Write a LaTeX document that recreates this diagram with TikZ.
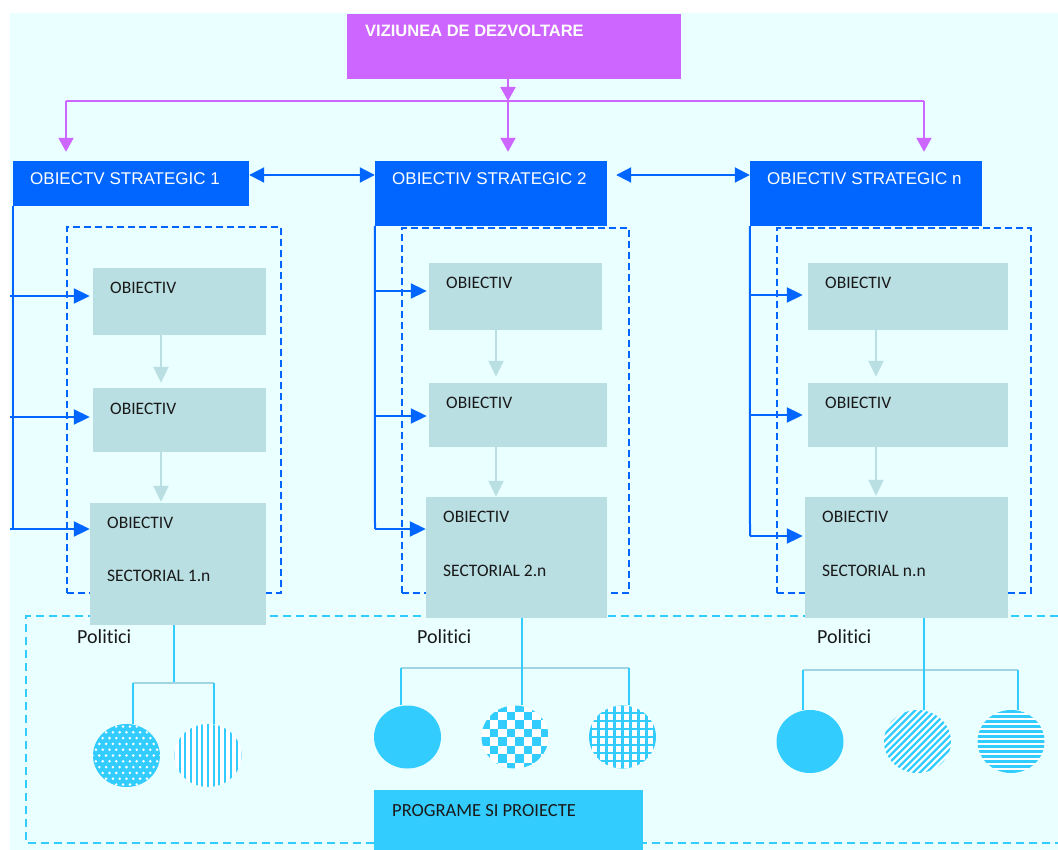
\documentclass[tikz,border=0pt]{standalone}
\usepackage{fontspec}
\usetikzlibrary{arrows.meta,fit,shapes.geometric}
\newfontfamily\arialf{Liberation Sans}
\newfontfamily\calf[Ligatures={NoCommon}]{Carlito}
\definecolor{bgc}{RGB}{234,255,255}
\definecolor{purp}{RGB}{204,102,255}
\definecolor{blu}{RGB}{0,102,255}
\definecolor{tealc}{RGB}{185,223,227}
\definecolor{cyanc}{RGB}{51,204,255}
\definecolor{barc}{RGB}{160,214,228}
\tikzset{
 visbox/.style={fill=purp, inner sep=0},
 strat/.style={fill=blu, inner sep=0},
 objbox/.style={fill=tealc, inner sep=0},
 grp/.style={draw=blu, line width=1.6pt, dash pattern=on 7pt off 4pt, inner sep=0},
 progbox/.style={fill=cyanc, inner sep=0},
 stxt/.style={text=white, font=\arialf\fontsize{17}{20}\selectfont, inner sep=0, anchor=west},
 vtxt/.style={text=white, font=\arialf\bfseries\fontsize{16.5}{20}\selectfont, inner sep=0, anchor=west},
 otxt/.style={text=black!90, font=\calf\fontsize{17.5}{20}\selectfont, inner sep=0, anchor=west},
 ptxt/.style={text=black!90, font=\calf\fontsize{20}{24}\selectfont, inner sep=0, anchor=west},
 gtxt/.style={text=black!90, font=\calf\fontsize{18.5}{22}\selectfont, inner sep=0, anchor=west},
 parrow/.style={draw=purp, line width=2pt, -{Triangle[width=15pt,length=14pt]}},
 pline/.style={draw=purp, line width=2pt},
 barrow/.style={draw=blu, line width=2pt, -{Triangle[width=15pt,length=16pt]}},
 bdbl/.style={draw=blu, line width=2pt, {Triangle[width=15pt,length=15pt]}-{Triangle[width=15pt,length=15pt]}},
 bline/.style={draw=blu, line width=2pt},
 larrow/.style={draw=tealc, line width=2pt, -{Triangle[width=15pt,length=16pt]}},
 cyline/.style={draw=cyanc, line width=2pt},
 barline/.style={draw=barc, line width=1.6pt},
 polframe/.style={draw=cyanc, line width=2pt, dash pattern=on 8pt off 5pt},
 pol/.style={ellipse, inner sep=0, minimum width=67pt, minimum height=63pt},
 patsolid/.style={pol, fill=cyanc},
 patdots/.style={pol, fill=cyanc, path picture={
   \begin{scope}[shift={(path picture bounding box.center)}]
   \foreach \r in {-6,...,6}{
     \foreach \c in {-6,...,6}{
       \pgfmathsetmacro{\xo}{\c*6.8+mod(\r+20,2)*3.4}
       \fill[white] ({\xo},{\r*5.8}) circle[radius=1.4];
     }
   }
   \end{scope}}},
 patvert/.style={pol, fill=white, path picture={
   \begin{scope}[shift={(path picture bounding box.center)}]
   \foreach \k in {-7,...,7}{
     \draw[cyanc, line width=2pt] ({\k*5.7},-40) -- ({\k*5.7},40);
   }
   \end{scope}}},
 patcheck/.style={pol, fill=white, path picture={
   \begin{scope}[shift={(path picture bounding box.center)}]
   \foreach \i in {-5,...,4}{
     \foreach \j in {-5,...,4}{
       \pgfmathtruncatemacro{\pp}{mod(\i+\j+20,2)}
       \ifnum\pp=0 \fill[cyanc] ({\i*8.5},{\j*8.5}) rectangle ++(8.5,8.5);\fi
     }
   }
   \end{scope}}},
 patgrid/.style={pol, fill=white, path picture={
   \begin{scope}[shift={(path picture bounding box.center)}]
   \foreach \k in {-5,...,5}{
     \draw[cyanc, line width=2.4pt] ({\k*8},-40) -- ({\k*8},40);
     \draw[cyanc, line width=2.4pt] (-40,{\k*8}) -- (40,{\k*8});
   }
   \end{scope}}},
 patdiag/.style={pol, fill=white, path picture={
   \begin{scope}[shift={(path picture bounding box.center)}]
   \foreach \k in {-14,...,14}{
     \draw[cyanc, line width=2.3pt] ({\k*6.7-40},40) -- ({\k*6.7+40},-40);
   }
   \end{scope}}},
 pathoriz/.style={pol, fill=white, path picture={
   \begin{scope}[shift={(path picture bounding box.center)}]
   \foreach \k in {-8,...,8}{
     \draw[cyanc, line width=2.4pt] (-40,{\k*5}) -- (40,{\k*5});
   }
   \end{scope}}}
}
\begin{document}
\begin{tikzpicture}[x=1pt,y=-1pt]
\useasboundingbox (0,0) rectangle (1058,850);
\fill[bgc] (10,13) rectangle (1058,850);

% group frames
\node[grp, fit={(67,227) (281,593)}] (d1) {};
\node[grp, fit={(402,228) (629,593)}] (d2) {};
\node[grp, fit={(777,228) (1031,593)}] (d3) {};
\coordinate (pfa) at (1058,616);
\coordinate (pfb) at (26,616);
\coordinate (pfc) at (26,843);
\coordinate (pfd) at (1058,843);
\draw[polframe] (pfa) -- (pfb) -- (pfc) -- (pfd);

% vision
\node[visbox, fit={(347,14) (681,79)}] (vis) {};
\node[vtxt] (tvis) at (365,31) {VIZIUNEA DE DEZVOLTARE};

% strategic boxes
\node[strat, fit={(13,161) (249,206)}] (s1) {};
\node[strat, fit={(375,161) (607,226)}] (s2) {};
\node[strat, fit={(750,161) (982,226)}] (s3) {};
\node[stxt] (ts1) at (30,179) {OBIECTV STRATEGIC 1};
\node[stxt] (ts2) at (392,179) {OBIECTIV STRATEGIC 2};
\node[stxt] (ts3) at (767,179) {OBIECTIV STRATEGIC n};

% objective boxes
\node[objbox, fit={(93,268) (266,335)}] (a1) {};
\node[objbox, fit={(93,388) (266,452)}] (b1) {};
\node[objbox, fit={(90,503) (266,625)}] (c1) {};
\node[objbox, fit={(429,263) (602,330)}] (a2) {};
\node[objbox, fit={(429,383) (607,447)}] (b2) {};
\node[objbox, fit={(426,497) (607,618)}] (c2) {};
\node[objbox, fit={(808,263) (1008,330)}] (a3) {};
\node[objbox, fit={(808,383) (1008,447)}] (b3) {};
\node[objbox, fit={(805,497) (1008,618)}] (c3) {};

\node[otxt] (ta1) at (110,288) {OBIECTIV};
\node[otxt] (tb1) at (110,409) {OBIECTIV};
\node[otxt] (tc1) at (107,523) {OBIECTIV};
\node[otxt] (tc1b) at (107,576) {SECTORIAL 1.n};
\node[otxt] (ta2) at (446,283) {OBIECTIV};
\node[otxt] (tb2) at (446,403) {OBIECTIV};
\node[otxt] (tc2) at (443,517) {OBIECTIV};
\node[otxt] (tc2b) at (443,571) {SECTORIAL 2.n};
\node[otxt] (ta3) at (825,283) {OBIECTIV};
\node[otxt] (tb3) at (825,403) {OBIECTIV};
\node[otxt] (tc3) at (822,517) {OBIECTIV};
\node[otxt] (tc3b) at (822,571) {SECTORIAL n.n};

% purple connectors
\coordinate (vsplit) at (508,101);
\coordinate (hl) at (66,101);
\coordinate (hr) at (924,101);
\draw[parrow] (vis.south -| vsplit) -- (vsplit);
\draw[pline] (hl) -- (hr);
\draw[parrow, shorten >=9pt] (hl) -- (hl |- s1.north);
\draw[parrow, shorten >=9pt] (vsplit) -- (vsplit |- s2.north);
\draw[parrow, shorten >=9pt] (hr) -- (hr |- s3.north);

% strategic double arrows
\coordinate (arrY) at (0,175);
\draw[bdbl] (s1.east |- arrY) -- (s2.west |- arrY);
\draw[bdbl, shorten <=9pt] (s2.east |- arrY) -- (s3.west |- arrY);

% feeders column 1
\coordinate (f1a) at (10,296);
\coordinate (f1b) at (10,417);
\coordinate (f1c) at (10,529);
\draw[bline] (s1.south west) -- (s1.south west |- f1c);
\draw[barrow, shorten >=3pt] (f1a) -- (f1a -| a1.west);
\draw[barrow, shorten >=3pt] (f1b) -- (f1b -| b1.west);
\draw[barrow] (f1c) -- (f1c -| c1.west);
% feeders column 2
\coordinate (f2a) at (375,291);
\coordinate (f2b) at (375,416);
\coordinate (f2c) at (375,529);
\draw[bline] (s2.south west) -- (f2c);
\draw[barrow, shorten >=2pt] (f2a) -- (f2a -| a2.west);
\draw[barrow, shorten >=2pt] (f2b) -- (f2b -| b2.west);
\draw[barrow] (f2c) -- (f2c -| c2.west);
% feeders column n
\coordinate (f3a) at (750,295);
\coordinate (f3b) at (750,415);
\coordinate (f3c) at (750,536);
\draw[bline] (s3.south west) -- (f3c);
\draw[barrow, shorten >=5pt] (f3a) -- (f3a -| a3.west);
\draw[barrow, shorten >=5pt] (f3b) -- (f3b -| b3.west);
\draw[barrow, shorten >=2pt] (f3c) -- (f3c -| c3.west);

% light arrows between objectives
\coordinate (lx1) at (161,0);
\coordinate (lx2) at (496,0);
\coordinate (lx3) at (876,0);
\draw[larrow, shorten >=5pt] (a1.south -| lx1) -- (b1.north -| lx1);
\draw[larrow, shorten >=1pt] (b1.south -| lx1) -- (c1.north -| lx1);
\draw[larrow, shorten >=6pt] (a2.south -| lx2) -- (b2.north -| lx2);
\draw[larrow] (b2.south -| lx2) -- (c2.north -| lx2);
\draw[larrow, shorten >=6pt] (a3.south -| lx3) -- (b3.north -| lx3);
\draw[larrow, shorten >=1pt] (b3.south -| lx3) -- (c3.north -| lx3);

% politici labels
\node[ptxt] (pol1) at (77,637) {Politici};
\node[ptxt] (pol2) at (417,637) {Politici};
\node[ptxt] (pol3) at (817,637) {Politici};

% circles
\node[patdots] (e11) at (126.5,755.5) {};
\node[patvert] (e12) at (208,755.5) {};
\node[patsolid] (e21) at (407.5,737) {};
\node[patcheck] (e22) at (515,737) {};
\node[patgrid] (e23) at (622.5,737) {};
\node[patsolid] (e31) at (810,741.5) {};
\node[patdiag] (e32) at (917.5,741.5) {};
\node[pathoriz] (e33) at (1011,741.5) {};

% trees
\coordinate (j1) at (174,683);
\coordinate (bl1) at (133,683);
\coordinate (br1) at (214,683);
\draw[cyline] (c1.south -| j1) -- (j1);
\draw[barline] (bl1) -- (br1);
\draw[cyline] (bl1) -- (bl1 |- e11.north);
\draw[cyline] (br1) -- (br1 |- e12.north);

\coordinate (j2) at (522,668);
\coordinate (bl2) at (401,668);
\coordinate (br2) at (629,668);
\draw[barline] (bl2) -- (br2);
\draw[cyline] (c2.south -| j2) -- (j2 |- e22.north);
\draw[cyline] (bl2) -- (bl2 |- e21.north);
\draw[cyline] (br2) -- (br2 |- e23.north);

\coordinate (j3) at (924,670);
\coordinate (bl3) at (803,670);
\coordinate (br3) at (1018,670);
\draw[barline] (bl3) -- (br3);
\draw[cyline] (c3.south -| j3) -- (j3 |- e32.north);
\draw[cyline] (bl3) -- (bl3 |- e31.north);
\draw[cyline] (br3) -- (br3 |- e33.north);

% programe
\node[progbox, fit={(374,790) (643,850)}] (prog) {};
\node[gtxt] (tprog) at (392,811) {PROGRAME SI PROIECTE};
\end{tikzpicture}
\end{document}
